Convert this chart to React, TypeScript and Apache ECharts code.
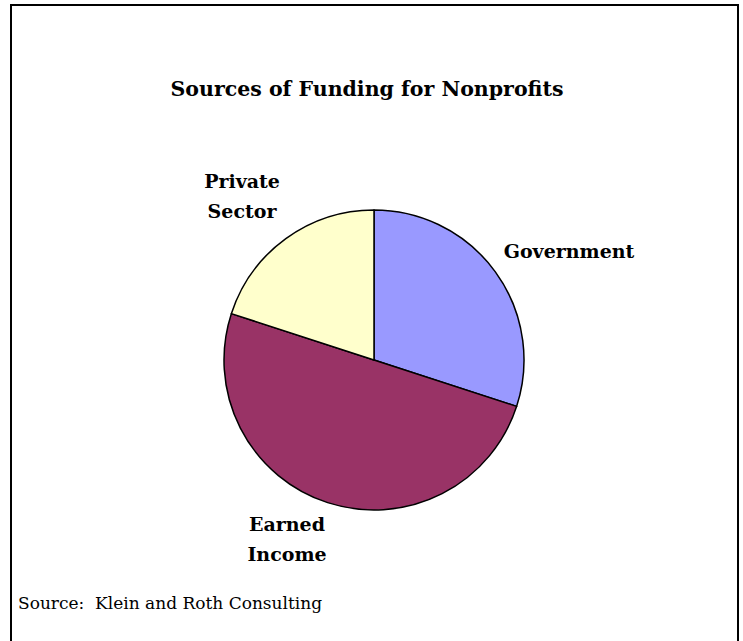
import React, { useEffect, useRef } from "react";
import * as echarts from "echarts";

const categories = ["Government", "Earned Income", "Private Sector"];
const values = [30, 50, 20];
const labelTexts = ["Government", "Earned\nIncome", "Private\nSector"];
const colors = ["#9999FF", "#993366", "#FFFFCC"];
const titleText = "Sources of Funding for Nonprofits";
const sourceText = "Source:  Klein and Roth Consulting";

// label anchor positions (style, px)
const labelPos = [
  [569, 251],
  [287, 539],
  [242, 196],
];

const FONT = "'DejaVu Serif', serif";

export default function App() {
  const ref = useRef<HTMLDivElement>(null);
  useEffect(() => {
    if (!ref.current) return;
    const chart = echarts.init(ref.current, null, { renderer: "svg" });
    chart.setOption({
      animation: false,
      backgroundColor: "#ffffff",
      graphic: [
        {
          type: "rect",
          shape: { x: 11, y: 5, width: 727, height: 700 },
          style: { fill: "none", stroke: "#000", lineWidth: 2 },
          silent: true,
        },
        {
          type: "text",
          x: 367,
          y: 89,
          style: {
            text: titleText,
            font: `bold 20.5px ${FONT}`,
            fill: "#000",
            verticalAlign: "middle",
            align: "center",
          },
        },
        {
          type: "text",
          x: 18,
          y: 603,
          style: {
            text: sourceText,
            font: `17px ${FONT}`,
            fill: "#000",
            verticalAlign: "middle",
            align: "left",
          },
        },
      ],
      series: [
        {
          type: "pie",
          center: [374, 360],
          radius: 150,
          startAngle: 90,
          clockwise: true,
          data: categories.map((c, i) => ({
            name: c,
            value: values[i],
            itemStyle: { color: colors[i] },
          })),
          itemStyle: { borderColor: "#000", borderWidth: 1.5 },
          label: {
            show: true,
            position: "outside",
            formatter: (p: any) => labelTexts[p.dataIndex],
            fontFamily: FONT,
            fontWeight: "bold",
            fontSize: 19,
            lineHeight: 30,
            color: "#000",
            align: "center",
          },
          labelLine: { show: false },
          labelLayout: (p: any) => ({
            x: labelPos[p.dataIndex][0],
            y: labelPos[p.dataIndex][1],
            align: "center",
            verticalAlign: "middle",
          }),
          emphasis: { disabled: true },
        },
      ],
    });
    return () => chart.dispose();
  }, []);
  return (
    <div
      ref={ref}
      style={{ position: "fixed", left: 0, top: 0, width: 743, height: 641 }}
    />
  );
}
